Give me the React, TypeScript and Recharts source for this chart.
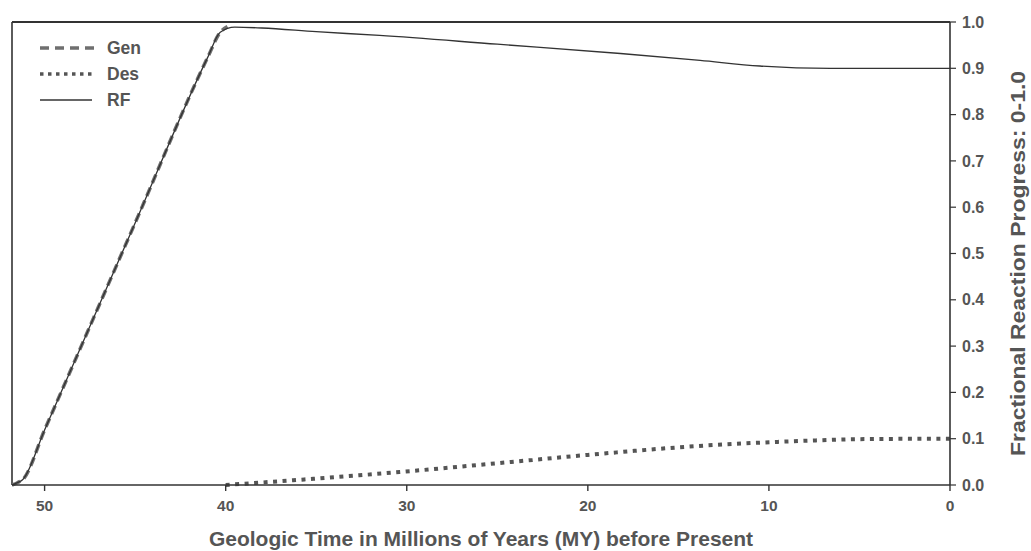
import React from 'react';
import { LineChart, Line, XAxis, YAxis, ReferenceLine, Legend, Label } from 'recharts';

const genYears = [51.8, 51.5, 51.2, 50, 45, 41, 40.3, 39.9];
const genValues = [0, 0.005, 0.012, 0.119, 0.566, 0.923, 0.978, 0.99];

const rfYears = [51.8, 51.5, 51.2, 50, 45, 41, 40.3, 39.5, 38, 35, 31.5, 25, 18.2, 13.8, 10.5, 6.6, 0];
const rfValues = [0, 0.005, 0.012, 0.119, 0.566, 0.923, 0.978, 0.989, 0.987, 0.979, 0.971, 0.952, 0.932, 0.917, 0.905, 0.9, 0.9];

const desYears = [40, 36, 30.4, 25, 20, 14, 8.3, 5, 0];
const desValues = [0, 0.011, 0.028, 0.047, 0.065, 0.084, 0.095, 0.099, 0.1];

const xTicks = [50, 40, 30, 20, 10, 0];
const yTicks = [0, 0.1, 0.2, 0.3, 0.4, 0.5, 0.6, 0.7, 0.8, 0.9, 1.0];

const legendItems = ['Gen', 'Des', 'RF'];

const toRows = (xs: number[], ys: number[]) => xs.map((x, i) => ({ x, y: ys[i] }));

const FONT = '"Liberation Sans", Arial, sans-serif';
const TEXT = '#555';

const genData = toRows(genYears, genValues);
const rfData = toRows(rfYears, rfValues);
const desData = toRows(desYears, desValues);

const LegendBox = () => (
  <svg width={140} height={90} style={{ display: 'block' }}>
    <line x1={10} x2={64} y1={18} y2={18} stroke="#6f6f6f" strokeWidth={3.5} strokeDasharray="9 6" />
    <text x={77} y={24} fontFamily={FONT} fontSize={17.5} fontWeight="bold" fill={TEXT}>{legendItems[0]}</text>
    <line x1={10} x2={64} y1={44} y2={44} stroke="#555" strokeWidth={3.5} strokeDasharray="3.5 4.5" />
    <text x={77} y={50} fontFamily={FONT} fontSize={17.5} fontWeight="bold" fill={TEXT}>{legendItems[1]}</text>
    <line x1={10} x2={62} y1={70} y2={70} stroke="#333" strokeWidth={1.3} />
    <text x={77} y={76} fontFamily={FONT} fontSize={17.5} fontWeight="bold" fill={TEXT}>{legendItems[2]}</text>
  </svg>
);

const RightLabel = (props: any) => {
  const vb = props.viewBox || {};
  const cx = vb.x + 68;
  const cy = vb.y + vb.height / 2 + 10;
  return (
    <text
      x={0}
      y={0}
      transform={`translate(${cx}, ${cy}) rotate(-90) scale(1.12, 1)`}
      textAnchor="middle"
      dominantBaseline="central"
      fontFamily={FONT}
      fontSize={20.5}
      fontWeight="bold"
      fill={TEXT}
    >
      Fractional Reaction Progress: 0-1.0
    </text>
  );
};

export default function App() {
  return (
    <div style={{ position: 'absolute', left: 0, top: 0, background: '#fff' }}>
      <LineChart width={1031} height={551} margin={{ top: 22, right: 0, bottom: 4, left: 12 }}>
        <XAxis
          dataKey="x"
          type="number"
          domain={[0, 51.8]}
          reversed
          ticks={xTicks}
          allowDataOverflow
          height={62}
          tickSize={6}
          tickMargin={9}
          axisLine={{ stroke: '#333', strokeWidth: 1.6 }}
          tickLine={{ stroke: '#333', strokeWidth: 1.4 }}
          tick={{ fill: TEXT, fontFamily: FONT, fontSize: 15.5, fontWeight: 'bold' }}
        >
          <Label
            value="Geologic Time in Millions of Years (MY) before Present"
            position="insideBottom"
            offset={1}
            style={{ fill: TEXT, fontFamily: FONT, fontSize: 21, fontWeight: 'bold' }}
          />
        </XAxis>
        <YAxis
          yAxisId="r"
          orientation="right"
          type="number"
          domain={[0, 1]}
          ticks={yTicks}
          width={81}
          tickSize={6}
          tickMargin={6}
          interval={0}
          tickFormatter={(v: number) => v.toFixed(1)}
          axisLine={{ stroke: '#333', strokeWidth: 1.6 }}
          tickLine={{ stroke: '#333', strokeWidth: 1.2 }}
          tick={{ fill: TEXT, fontFamily: FONT, fontSize: 16, fontWeight: 'bold' }}
        >
          <Label content={<RightLabel />} />
        </YAxis>
        <ReferenceLine yAxisId="r" y={1} stroke="#333" strokeWidth={1.8} />
        <ReferenceLine yAxisId="r" x={51.8} stroke="#333" strokeWidth={1.6} />
        <Legend
          layout="horizontal"
          verticalAlign="middle"
          align="center"
          content={() => <LegendBox />}
          wrapperStyle={{ left: 30, top: 30, width: 140, height: 90 }}
        />
        <Line
          yAxisId="r"
          data={genData}
          dataKey="y"
          name="Gen"
          type="monotone"
          stroke="#6f6f6f"
          strokeWidth={3.5}
          strokeDasharray="9 5"
          dot={false}
          activeDot={false}
          isAnimationActive={false}
        />
        <Line
          yAxisId="r"
          data={desData}
          dataKey="y"
          name="Des"
          type="monotone"
          stroke="#555"
          strokeWidth={4}
          strokeDasharray="4 5.5"
          dot={false}
          activeDot={false}
          isAnimationActive={false}
        />
        <Line
          yAxisId="r"
          data={rfData}
          dataKey="y"
          name="RF"
          type="monotone"
          stroke="#333"
          strokeWidth={1.3}
          dot={false}
          activeDot={false}
          isAnimationActive={false}
        />
      </LineChart>
    </div>
  );
}
